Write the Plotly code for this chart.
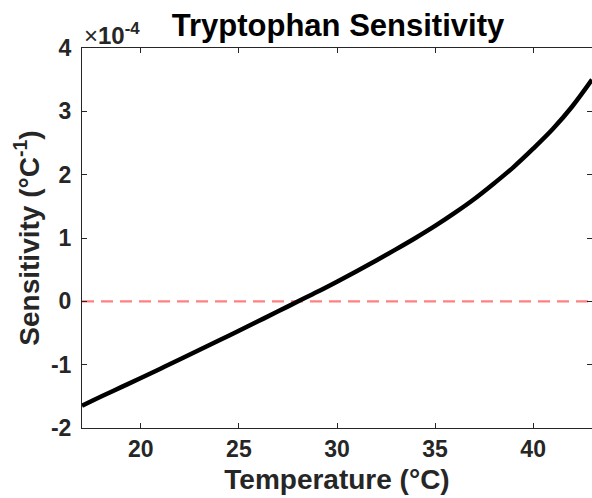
import plotly.graph_objects as go

# Data (sensitivity in units of 1e-4 per °C)
temperature = [17, 18, 19, 20, 21, 22, 23, 24, 25, 26, 27, 28, 29, 30,
               31, 32, 33, 34, 35, 36, 37, 38, 39, 40, 41, 42, 43]
sensitivity_e4 = [-1.65, -1.50, -1.355, -1.21, -1.063, -0.915, -0.765, -0.615,
                  -0.465, -0.312, -0.158, -0.003, 0.15, 0.31, 0.475, 0.645,
                  0.82, 1.0, 1.19, 1.395, 1.615, 1.86, 2.12, 2.41, 2.72, 3.08, 3.50]
zero_line_x = [17, 43]
zero_line_y = [0, 0]
x_ticks = [20, 25, 30, 35, 40]
y_ticks = [-2, -1, 0, 1, 2, 3, 4]
y_tick_text = ["-2", "-1", "0", "1", "2", "3", "4"]

FONT = "Liberation Sans, Arial, sans-serif"
AX = "#262626"

fig = go.Figure()
fig.add_trace(go.Scatter(x=zero_line_x, y=zero_line_y, mode="lines",
                         line=dict(color="rgb(255,128,128)", width=2.2, dash="12px,7px"),
                         showlegend=False, hoverinfo="skip"))
fig.add_trace(go.Scatter(x=temperature, y=sensitivity_e4, mode="lines",
                         line=dict(color="black", width=4.5, shape="spline"),
                         showlegend=False))

axis_common = dict(showline=True, linecolor=AX, linewidth=1, mirror="ticks",
                   ticks="inside", ticklen=5, tickcolor=AX, tickwidth=1,
                   showgrid=False, zeroline=False, automargin=False,
                   tickfont=dict(family=FONT, size=23, color=AX, weight="bold"))

fig.update_layout(
    width=592, height=498,
    margin=dict(l=82, r=0, t=48, b=70, autoexpand=False),
    plot_bgcolor="white", paper_bgcolor="white",
    title=dict(text="<b>Tryptophan Sensitivity</b>", x=338 / 592, xanchor="center",
               y=1 - 25 / 498, yanchor="middle", yref="container", automargin=False,
               font=dict(family=FONT, size=31, color="black")),
    xaxis=dict(range=[17, 43], tickvals=x_ticks, ticklabelstandoff=0,
               title=dict(text="<b>Temperature (°C)</b>", standoff=8,
                          font=dict(family=FONT, size=28, color=AX)),
               **axis_common),
    yaxis=dict(range=[-2, 4], tickvals=y_ticks, ticktext=y_tick_text,
               ticklabelstandoff=5,
               title=dict(text="<b>Sensitivity (°C<sup>-1</sup>)</b>", standoff=3,
                          font=dict(family=FONT, size=28, color=AX)),
               **axis_common),
    annotations=[dict(text="×<b>10<sup>-4</sup></b>", xref="paper", yref="paper",
                      x=0, y=1, xanchor="left", yanchor="bottom", yshift=-3,
                      showarrow=False,
                      font=dict(family=FONT, size=24, color=AX))],
)

fig.write_html("out.html", config={"displayModeBar": False},
               post_script="document.body.style.margin='0';document.body.style.overflow='hidden';")
